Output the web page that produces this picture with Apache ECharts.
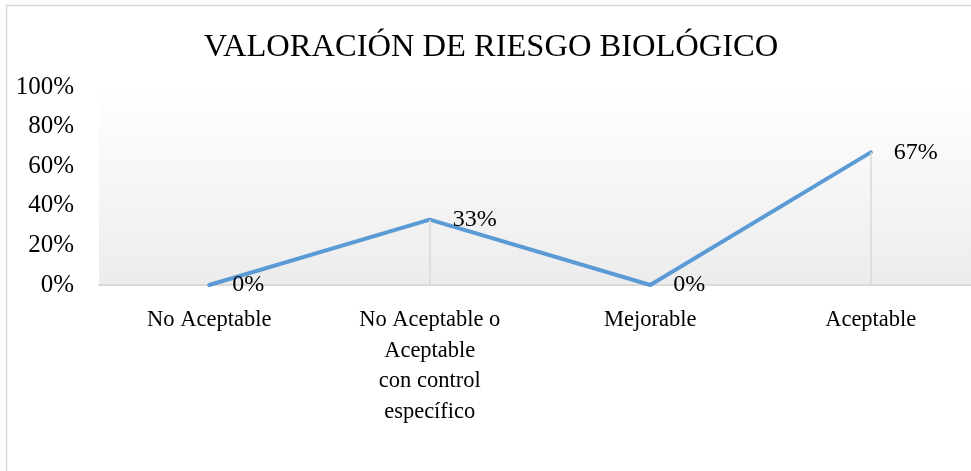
<!DOCTYPE html>
<html>
<head>
<meta charset="utf-8">
<script src="https://cdn.jsdelivr.net/npm/echarts@6/dist/echarts.min.js"></script>
<style>
  html, body { margin: 0; padding: 0; background: #fff; }
  #chart { width: 971px; height: 471px; }
</style>
</head>
<body>
<div id="chart"></div>
<script>
// categorias y valores (%)
const categories = [
  "No Aceptable",
  "No Aceptable o\nAceptable\ncon control\nespecífico",
  "Mejorable",
  "Aceptable"
];
const values = [0, 33, 0, 67];
const yTicks = [0, 20, 40, 60, 80, 100];

const chart = echarts.init(document.getElementById("chart"));
const serif = "'Liberation Serif', 'Times New Roman', serif";

// lineas verticales desde cada punto hasta el eje
const dropLines = values.map((v, i) => [
  { xAxis: i, yAxis: v },
  { xAxis: i, yAxis: 0 }
]);

const option = {
  animation: false,
  title: {
    text: "VALORACIÓN DE RIESGO BIOLÓGICO",
    left: 486,
    top: 26,
    textAlign: "center",
    textStyle: { fontFamily: serif, fontSize: 32.5, fontWeight: "normal", color: "#000" }
  },
  graphic: [
    {
      type: "rect",
      left: 4,
      top: 3,
      silent: true,
      shape: { width: 990, height: 490 },
      style: { fill: "none", stroke: "#d9d9d9", lineWidth: 1.5 }
    }
  ],
  grid: {
    left: 99,
    top: 87,
    width: 882,
    height: 198,
    outerBoundsMode: "none",
    show: true,
    borderWidth: 0,
    backgroundColor: {
      type: "linear", x: 0, y: 0, x2: 0, y2: 1,
      colorStops: [
        { offset: 0, color: "#ffffff" },
        { offset: 1, color: "#ececec" }
      ]
    }
  },
  xAxis: {
    type: "category",
    data: categories,
    boundaryGap: true,
    axisLine: { lineStyle: { color: "#d9d9d9", width: 2 } },
    axisTick: { show: false },
    axisLabel: {
      fontFamily: serif,
      fontSize: 22.5,
      color: "#000",
      margin: 20,
      lineHeight: 30.5,
      interval: 0
    }
  },
  yAxis: {
    type: "value",
    min: 0,
    max: 100,
    interval: 20,
    axisLine: { show: false },
    axisTick: { show: false },
    splitLine: { show: false },
    axisLabel: {
      fontFamily: serif,
      fontSize: 25,
      color: "#000",
      margin: 25,
      formatter: (v) => (yTicks.includes(v) ? v + "%" : "")
    }
  },
  series: [
    {
      type: "line",
      data: values,
      symbol: "circle",
      symbolSize: 2,
      showSymbol: true,
      itemStyle: { color: "#5b9bd5" },
      lineStyle: { color: "#5b9bd5", width: 4, cap: "round", join: "round" },
      label: {
        show: true,
        position: "right",
        distance: 22,
        offset: [0, 4],
        fontFamily: serif,
        fontSize: 24,
        color: "#000",
        formatter: (p) => p.value + "%"
      },
      labelLayout: { hideOverlap: false },
      markLine: {
        silent: true,
        symbol: "none",
        label: { show: false },
        lineStyle: { color: "#d9d9d9", width: 1.5, type: "solid" },
        data: dropLines
      },
      z: 3
    }
  ]
};
chart.setOption(option);
</script>
</body>
</html>
